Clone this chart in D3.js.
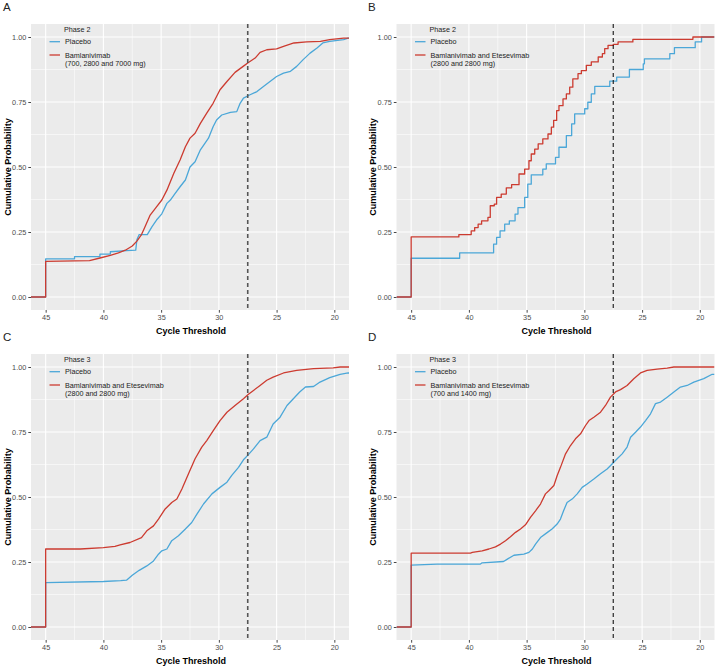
<!DOCTYPE html>
<html>
<head>
<meta charset="utf-8">
<script src="https://cdn.jsdelivr.net/npm/d3@7"></script>
<style>
  body { margin: 0; background: #fff; }
  svg { display: block; font-family: "Liberation Sans", Arial, sans-serif; }
</style>
</head>
<body>
<svg id="chart" width="728" height="667"></svg>
<script>
// ---------- DATA ----------
const xTicks = [45, 40, 35, 30, 25, 20];
const xMinor = [42.5, 37.5, 32.5, 27.5, 22.5];
const yTicks = [0, 0.25, 0.5, 0.75, 1.0];
const yMinor = [0.125, 0.375, 0.625, 0.875];
const ctCutoff = 27.5;
const panelLetters = ["A", "B", "C", "D"];
const phaseLabels = ["Phase 2", "Phase 2", "Phase 3", "Phase 3"];
const placeboLabel = "Placebo";
const treatmentLabels = [
  ["Bamlanivimab", "(700, 2800 and 7000 mg)"],
  ["Bamlanivimab and Etesevimab", "(2800 and 2800 mg)"],
  ["Bamlanivimab and Etesevimab", "(2800 and 2800 mg)"],
  ["Bamlanivimab and Etesevimab", "(700 and 1400 mg)"]
];
const xTitle = "Cycle Threshold";
const yTitle = "Cumulative Probability";

// [cycle threshold, cumulative probability]
const placeboA = [[45,0.147],[42.5,0.147],[42.5,0.155],[40.3,0.155],[40.3,0.165],[39.4,0.165],[39.4,0.174],[38,0.178],[37.2,0.18],[37.1,0.22],[36.9,0.24],[36.2,0.24],[35.8,0.27],[35.4,0.296],[34.94,0.32],[34.5,0.36],[34.2,0.373],[33.8,0.398],[33.36,0.424],[32.9,0.45],[32.5,0.50],[32.06,0.52],[31.6,0.566],[31.3,0.585],[30.9,0.611],[30.5,0.655],[30.2,0.681],[29.75,0.70],[29.0,0.71],[28.45,0.713],[28.16,0.745],[27.87,0.765],[27.3,0.778],[26.7,0.79],[26.14,0.81],[25.57,0.829],[25.0,0.848],[24.4,0.861],[23.8,0.868],[23.26,0.887],[22.7,0.913],[22.1,0.938],[21.5,0.958],[21.0,0.977],[20.4,0.983],[19.2,0.99],[18.8,0.996]];
const treatA = [[45,0.137],[41.2,0.14],[40.3,0.15],[39.4,0.16],[38.7,0.17],[38.1,0.18],[37.5,0.196],[37.1,0.215],[36.7,0.24],[36.5,0.26],[36.1,0.30],[35.95,0.315],[35.4,0.347],[34.94,0.373],[34.5,0.411],[33.9,0.476],[33.36,0.527],[32.9,0.578],[32.5,0.611],[32.06,0.63],[31.6,0.668],[31.05,0.707],[30.5,0.745],[29.9,0.797],[29.3,0.829],[28.6,0.864],[27.9,0.887],[27.44,0.902],[26.86,0.919],[26.43,0.941],[25.85,0.951],[25.0,0.954],[24.4,0.964],[23.5,0.977],[22.4,0.981],[21.2,0.983],[20.4,0.99],[19.2,0.996]];
const placeboB = [[45,0.149],[40.8,0.17],[37.86,0.203],[37.6,0.229],[37.3,0.254],[36.9,0.28],[36.5,0.293],[36.0,0.319],[35.75,0.344],[35.17,0.383],[34.9,0.434],[34.6,0.47],[33.6,0.492],[33.3,0.512],[32.5,0.537],[32.2,0.576],[31.56,0.621],[31.1,0.666],[30.84,0.704],[29.97,0.724],[29.7,0.749],[29.4,0.781],[29.1,0.81],[27.8,0.83],[27.2,0.846],[26.1,0.875],[24.9,0.897],[24.8,0.916],[22.6,0.936],[22.2,0.959],[20.4,0.981],[19.85,1.0]];
const treatB = [[45,0.231],[40.87,0.24],[39.8,0.254],[39.5,0.267],[39.2,0.28],[38.9,0.293],[38.35,0.306],[38.15,0.351],[37.8,0.357],[37.6,0.383],[37.2,0.396],[36.76,0.42],[36.3,0.432],[35.66,0.473],[35.17,0.492],[34.8,0.524],[34.6,0.55],[34.3,0.569],[34.0,0.589],[33.6,0.608],[33.15,0.627],[32.86,0.653],[32.66,0.679],[32.4,0.717],[32.2,0.736],[31.85,0.762],[31.56,0.781],[31.27,0.807],[31.0,0.839],[30.55,0.859],[30.26,0.871],[29.83,0.891],[29.4,0.904],[28.8,0.923],[28.44,0.936],[28.24,0.955],[27.95,0.968],[27.5,0.972],[27.08,0.981],[25.8,0.991],[20.6,1.0]];
const placeboC = [[45,0.171],[40,0.175],[38.5,0.178],[38,0.18],[37.5,0.199],[36.9,0.218],[36.24,0.235],[35.66,0.254],[35.23,0.28],[34.94,0.293],[34.5,0.30],[34.08,0.332],[33.5,0.351],[32.9,0.377],[32.35,0.402],[31.9,0.434],[31.33,0.473],[30.6,0.512],[29.9,0.537],[29.3,0.557],[28.9,0.582],[28.3,0.614],[27.87,0.643],[27.44,0.663],[27.0,0.685],[26.43,0.717],[25.85,0.73],[25.3,0.781],[24.7,0.807],[24.1,0.852],[23.55,0.878],[23.0,0.904],[22.5,0.923],[21.8,0.925],[21.24,0.942],[20.4,0.959],[19.5,0.972],[18.8,0.977]];
const treatC = [[45,0.30],[42,0.30],[40,0.305],[39,0.31],[38.55,0.316],[37.7,0.325],[36.7,0.344],[36.24,0.37],[35.66,0.389],[35.23,0.415],[34.65,0.454],[34.08,0.479],[33.64,0.492],[33.2,0.531],[32.63,0.589],[32.06,0.647],[31.48,0.692],[31.05,0.717],[30.47,0.756],[29.9,0.794],[29.3,0.826],[28.6,0.852],[27.87,0.878],[27.44,0.895],[27.0,0.91],[26.43,0.929],[25.85,0.949],[25.3,0.961],[24.4,0.977],[23.26,0.987],[21.8,0.994],[20.1,0.997],[19.5,1.0]];
const placeboD = [[45,0.238],[42.75,0.242],[39.0,0.242],[38.85,0.247],[37.0,0.252],[36.7,0.26],[36.1,0.276],[35.24,0.28],[34.8,0.287],[34.5,0.30],[34.23,0.319],[33.8,0.344],[33.2,0.364],[32.8,0.377],[32.36,0.396],[32.07,0.415],[31.8,0.447],[31.5,0.479],[31.06,0.492],[30.62,0.512],[30.19,0.537],[29.76,0.55],[29.18,0.569],[28.6,0.589],[28.03,0.608],[27.6,0.627],[27.16,0.647],[26.73,0.666],[26.3,0.692],[26.0,0.73],[25.57,0.749],[25.14,0.769],[24.7,0.794],[24.27,0.82],[23.84,0.859],[23.4,0.865],[22.83,0.884],[22.25,0.904],[21.68,0.923],[21.1,0.929],[20.52,0.942],[19.66,0.955],[18.93,0.972]];
const treatD = [[45,0.284],[39.86,0.284],[39.7,0.287],[38.85,0.293],[38.27,0.30],[37.7,0.308],[37.26,0.319],[36.83,0.332],[36.4,0.347],[35.96,0.364],[35.53,0.377],[35.1,0.393],[34.67,0.422],[34.23,0.447],[33.8,0.473],[33.37,0.512],[33.08,0.524],[32.64,0.544],[32.36,0.582],[32.07,0.614],[31.63,0.666],[31.2,0.698],[30.77,0.724],[30.33,0.743],[29.9,0.775],[29.6,0.794],[29.18,0.807],[28.6,0.826],[28.17,0.852],[27.74,0.884],[27.3,0.904],[26.87,0.913],[26.3,0.929],[25.72,0.955],[25.14,0.977],[24.56,0.987],[23.7,0.992],[22.83,0.996],[22.25,1.0]];

const placeboSeries = [placeboA, placeboB, placeboC, placeboD];
const treatSeries = [treatA, treatB, treatC, treatD];

// ---------- STYLE / LAYOUT ----------
const placeboColor = "#4BA7D8";
const treatColor = "#CC3B30";
const bgColor = "#EBEBEB";
const stepped = [false, true, false, false];
const cutoffStyles = [
  { color: "#555555", width: 1.6, dash: "4,3" },
  { color: "#111111", width: 1.1, dash: "4,3" },
  { color: "#555555", width: 1.6, dash: "4,3" },
  { color: "#111111", width: 1.1, dash: "4,3" }
];
const layout = [
  { left: 31, top: 24, ox: 0, oy: 0 },
  { left: 396.5, top: 24, ox: 365, oy: 0 },
  { left: 31, top: 354, ox: 0, oy: 330 },
  { left: 396.5, top: 354, ox: 365, oy: 330 }
];
const pw = 318, ph = 286;
const xDomain = [46.27, 18.73];
const yDomain = [-0.05, 1.05];

const svg = d3.select("#chart");
svg.append("rect").attr("width", 728).attr("height", 667).attr("fill", "#fff");

layout.forEach((L, i) => {
  const g = svg.append("g").attr("transform", `translate(${L.left},${L.top})`);
  const x = d3.scaleLinear().domain(xDomain).range([0, pw]);
  const y = d3.scaleLinear().domain(yDomain).range([ph, 0]);

  g.append("rect").attr("width", pw).attr("height", ph).attr("fill", bgColor);

  // grid
  g.selectAll(".xminor").data(xMinor).join("line")
    .attr("x1", d => x(d)).attr("x2", d => x(d)).attr("y1", 0).attr("y2", ph)
    .attr("stroke", "#fff").attr("stroke-width", 0.55);
  g.selectAll(".yminor").data(yMinor).join("line")
    .attr("y1", d => y(d)).attr("y2", d => y(d)).attr("x1", 0).attr("x2", pw)
    .attr("stroke", "#fff").attr("stroke-width", 0.55);
  g.selectAll(".xmajor").data(xTicks).join("line")
    .attr("x1", d => x(d)).attr("x2", d => x(d)).attr("y1", 0).attr("y2", ph)
    .attr("stroke", "#fff").attr("stroke-width", 1.1);
  g.selectAll(".ymajor").data(yTicks).join("line")
    .attr("y1", d => y(d)).attr("y2", d => y(d)).attr("x1", 0).attr("x2", pw)
    .attr("stroke", "#fff").attr("stroke-width", 1.1);

  // clip
  const clipId = "clip" + i;
  svg.append("defs").append("clipPath").attr("id", clipId)
    .append("rect").attr("width", pw).attr("height", ph);
  const plot = g.append("g").attr("clip-path", `url(#${clipId})`);

  // ECDF lines, padded to panel edges
  const line = d3.line()
    .x(d => x(d[0])).y(d => y(d[1]))
    .curve(stepped[i] ? d3.curveStepAfter : d3.curveLinear);
  const pad = s => {
    const first = s[0], last = s[s.length - 1];
    return [[xDomain[0], 0], [first[0], 0]].concat(s, [[xDomain[1], last[1]]]);
  };
  [[placeboSeries[i], placeboColor], [treatSeries[i], treatColor]].forEach(([s, c]) => {
    plot.append("path").attr("d", line(pad(s)))
      .attr("fill", "none").attr("stroke", c).attr("stroke-width", 1.3)
      .attr("stroke-linejoin", "round");
  });

  // cutoff
  const cs = cutoffStyles[i];
  plot.append("line")
    .attr("x1", x(ctCutoff)).attr("x2", x(ctCutoff)).attr("y1", 0).attr("y2", ph)
    .attr("stroke", cs.color).attr("stroke-width", cs.width).attr("stroke-dasharray", cs.dash);

  // axes
  const yAxis = d3.axisLeft(y).tickValues(yTicks).tickFormat(d3.format(".2f")).tickSize(2.7).tickPadding(2);
  const xAxis = d3.axisBottom(x).tickValues(xTicks).tickFormat(d3.format("d")).tickSize(2.7).tickPadding(2);
  const ya = g.append("g").call(yAxis);
  const xa = g.append("g").attr("transform", `translate(0,${ph})`).call(xAxis);
  [ya, xa].forEach(a => {
    a.select(".domain").remove();
    a.selectAll(".tick line").attr("stroke", "#333").attr("stroke-width", 0.9);
    a.selectAll(".tick text").attr("fill", "#4D4D4D").attr("font-size", 7.3)
      .attr("font-family", "Liberation Sans, Arial, sans-serif");
  });

  // axis titles
  g.append("text").attr("x", pw / 2 + 1).attr("y", ph + 24)
    .attr("text-anchor", "middle").attr("font-weight", "bold").attr("font-size", 9)
    .attr("fill", "#000").text(xTitle);
  svg.append("text")
    .attr("transform", `translate(${L.ox + 11},${L.top + ph / 2}) rotate(-90)`)
    .attr("text-anchor", "middle").attr("font-weight", "bold").attr("font-size", 9)
    .attr("fill", "#000").text(yTitle);

  // panel letter
  svg.append("text").attr("x", L.ox + 3).attr("y", L.oy + 11)
    .attr("font-size", 11.5).attr("fill", "#222").text(panelLetters[i]);

  // legend
  const lg = g.append("g");
  lg.append("text").attr("x", 33).attr("y", 7.6).attr("font-size", 7.2).attr("fill", "#222")
    .text(phaseLabels[i]);
  lg.append("line").attr("x1", 18.5).attr("x2", 29).attr("y1", 17.7).attr("y2", 17.7)
    .attr("stroke", placeboColor).attr("stroke-width", 1.3);
  lg.append("text").attr("x", 34).attr("y", 20.3).attr("font-size", 7.2).attr("fill", "#222")
    .text(placeboLabel);
  lg.append("line").attr("x1", 18.5).attr("x2", 29).attr("y1", 31).attr("y2", 31)
    .attr("stroke", treatColor).attr("stroke-width", 1.3);
  treatmentLabels[i].forEach((t, k) => {
    lg.append("text").attr("x", 34).attr("y", 33.6 + k * 8.4).attr("font-size", 7.2)
      .attr("fill", "#222").text(t);
  });
});
</script>
</body>
</html>
